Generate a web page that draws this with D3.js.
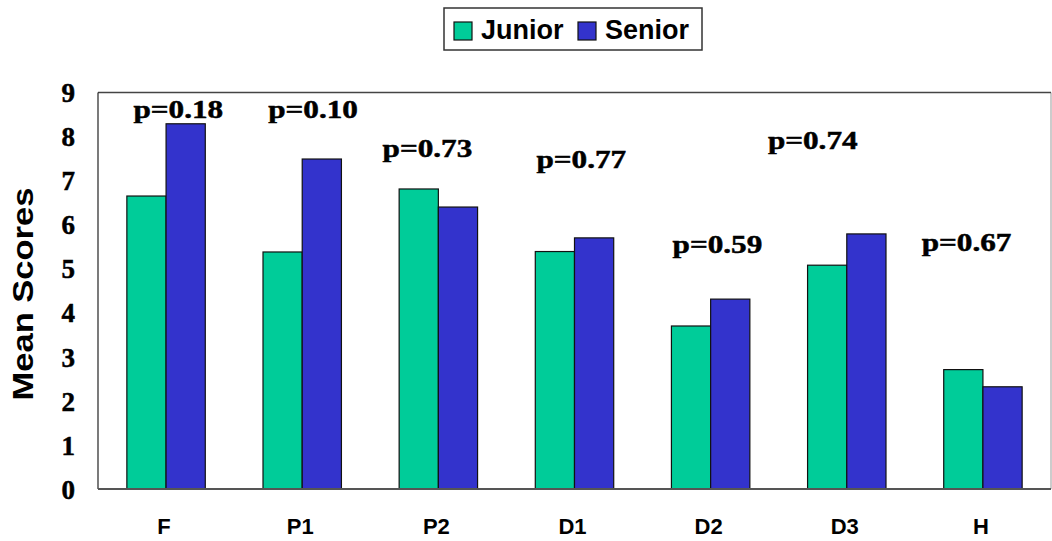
<!DOCTYPE html>
<html>
<head>
<meta charset="utf-8">
<script src="https://cdn.jsdelivr.net/npm/d3@7"></script>
<style>
    body { margin: 0; background: #fff; }
    svg { display: block; }
    .serif { font-family: 'Liberation Serif', serif; font-weight: bold; stroke: #000; stroke-width: 0.5px; }
    .sans { font-family: 'Liberation Sans', sans-serif; font-weight: bold; }
</style>
</head>
<body>
<div id="chart"></div>
<script>
// data
const categories = ['F', 'P1', 'P2', 'D1', 'D2', 'D3', 'H'];
const series = ['Junior', 'Senior'];
const junior = [6.65, 5.38, 6.81, 5.39, 3.70, 5.08, 2.71];
const senior = [8.29, 7.49, 6.40, 5.70, 4.31, 5.79, 2.32];
const pValues = ['p=0.18', 'p=0.10', 'p=0.73', 'p=0.77', 'p=0.59', 'p=0.74', 'p=0.67'];
// where each p label sits: height in score units, shift across the category band
const pLabelLevel = [8.42, 8.42, 7.54, 7.29, 5.36, 7.72, 5.40];
const pLabelShift = [0.09, 0.08, -0.08, 0.05, 0.05, -0.25, -0.12];
const yTicks = [0, 1, 2, 3, 4, 5, 6, 7, 8, 9];
const colors = ['#00cc99', '#3333cc'];

const width = 1052, height = 541;
const margin = {top: 92.5, right: 1, bottom: 52, left: 98};

const svg = d3.select('#chart')
    .append('svg')
    .attr('width', width)
    .attr('height', height);

const x0 = d3.scaleBand()
    .domain(categories)
    .range([margin.left, width - margin.right])
    .padding(0);

const x1 = d3.scaleBand()
    .domain(series)
    .range([0, x0.bandwidth()])
    .paddingInner(0)
    .paddingOuter(0.736);

const y = d3.scaleLinear()
    .domain([0, 9])
    .range([height - margin.bottom, margin.top]);

const color = d3.scaleOrdinal().domain(series).range(colors);

const rows = categories.map((c, i) => ({cat: c, Junior: junior[i], Senior: senior[i]}));

// frame
const x0l = margin.left, x1r = width - margin.right, yt = margin.top, yb = height - margin.bottom;
svg.append('line').attr('x1', x1r).attr('x2', x1r).attr('y1', yt).attr('y2', yb)
    .attr('stroke', '#aaa').attr('stroke-width', 1.2);
svg.append('line').attr('x1', x0l).attr('x2', x1r).attr('y1', yt).attr('y2', yt)
    .attr('stroke', '#444').attr('stroke-width', 1.5);

// bars
const groups = svg.append('g')
    .selectAll('g')
    .data(rows)
    .join('g')
    .attr('transform', d => 'translate(' + x0(d.cat) + ',0)');

groups.selectAll('rect')
    .data(d => series.map(s => ({key: s, value: d[s]})))
    .join('rect')
    .attr('x', d => x1(d.key))
    .attr('y', d => y(d.value))
    .attr('width', x1.bandwidth())
    .attr('height', d => y(0) - y(d.value))
    .attr('fill', d => color(d.key))
    .attr('stroke', '#111')
    .attr('stroke-width', 1.2);

svg.append('line').attr('x1', x0l).attr('x2', x0l).attr('y1', yt).attr('y2', yb)
    .attr('stroke', '#222').attr('stroke-width', 1.2);
svg.append('line').attr('x1', x0l).attr('x2', x1r).attr('y1', yb).attr('y2', yb)
    .attr('stroke', '#555').attr('stroke-width', 2);

// y axis labels
const yAxis = svg.append('g')
    .attr('transform', 'translate(' + margin.left + ',0)')
    .call(d3.axisLeft(y).tickValues(yTicks).tickSize(0).tickPadding(23));
yAxis.attr('font-family', null).attr('font-size', null);
yAxis.select('.domain').remove();
yAxis.selectAll('text')
    .attr('class', 'serif')
    .style('font-size', '27px')
    .attr('fill', '#000')
    .attr('dy', '0.34em');

// x axis labels
const xAxis = svg.append('g')
    .attr('transform', 'translate(0,' + yb + ')')
    .call(d3.axisBottom(x0).tickSize(0).tickPadding(0));
xAxis.attr('font-family', null).attr('font-size', null);
xAxis.select('.domain').remove();
xAxis.selectAll('text')
    .attr('class', 'sans')
    .style('font-size', '22px')
    .attr('fill', '#000')
    .attr('x', -2)
    .attr('y', 45)
    .attr('dy', 0);

// y title
svg.append('text')
    .attr('class', 'sans')
    .attr('transform', 'translate(33,294) rotate(-90) scale(1.19,1)')
    .attr('text-anchor', 'middle')
    .style('font-size', '29px')
    .text('Mean Scores');

// p labels
svg.append('g')
    .selectAll('text')
    .data(categories)
    .join('text')
    .attr('class', 'serif')
    .attr('transform', (c, i) => 'translate(' + (x0(c) + x0.bandwidth() * (0.5 + pLabelShift[i])) + ',' + y(pLabelLevel[i]) + ') scale(1.2,1)')
    .attr('text-anchor', 'middle')
    .style('font-size', '26px')
    .text((c, i) => pValues[i]);

// legend
const legend = svg.append('g');
legend.append('rect')
    .attr('x', 444).attr('y', 8).attr('width', 258).attr('height', 42)
    .attr('fill', '#fff').attr('stroke', '#333').attr('stroke-width', 1.5);

const legendX = [454, 578];
series.forEach((s, i) => {
    legend.append('rect')
        .attr('x', legendX[i]).attr('y', 22).attr('width', 18).attr('height', 18)
        .attr('fill', color(s)).attr('stroke', '#111').attr('stroke-width', 1.2);
    legend.append('text')
        .attr('class', 'sans')
        .attr('x', legendX[i] + 27).attr('y', 38.5)
        .style('font-size', '27px')
        .text(s);
});
</script>
</body>
</html>
